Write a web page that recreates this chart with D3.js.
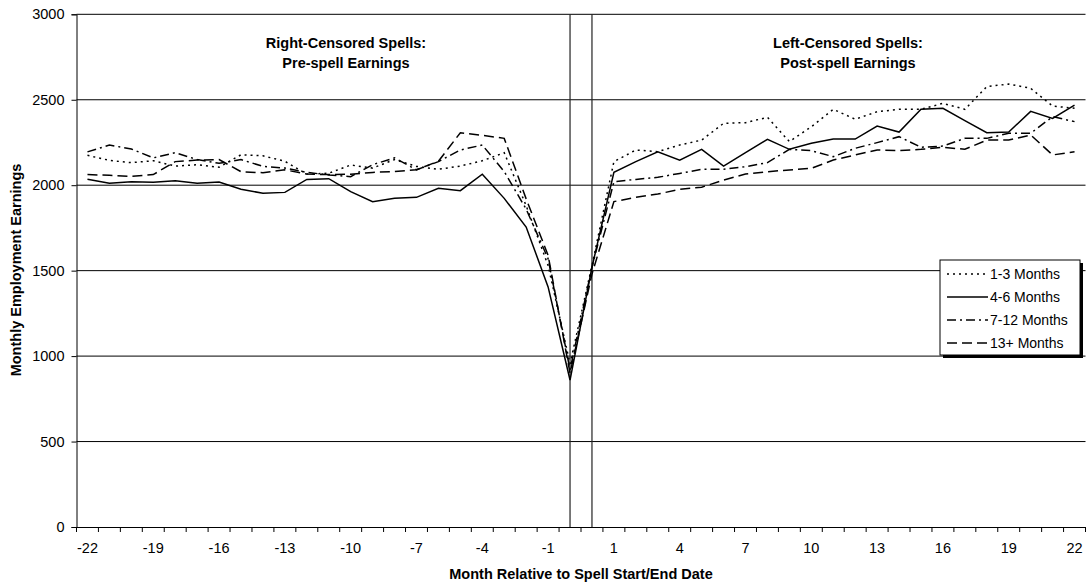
<!DOCTYPE html>
<html>
<head>
<meta charset="utf-8">
<script src="https://cdn.jsdelivr.net/npm/d3@7"></script>
<style>
  body { margin: 0; background: #fff; }
  svg text { font-family: "Liberation Sans", Arial, sans-serif; fill: #000; }
</style>
</head>
<body>
<div id="chart"></div>
<script>
// --- data ---
const months = ["-22","-21","-20","-19","-18","-17","-16","-15","-14","-13","-12","-11",
  "-10","-9","-8","-7","-6","-5","-4","-3","-2","-1","0s","0e",
  "1","2","3","4","5","6","7","8","9","10","11","12","13","14","15","16","17","18",
  "19","20","21","22"];
const tickLabels = ["-22","-19","-16","-13","-10","-7","-4","-1","1","4","7","10","13","16","19","22"];
const yTicks = [0, 500, 1000, 1500, 2000, 2500, 3000];
const seriesNames = ["1-3 Months", "4-6 Months", "7-12 Months", "13+ Months"];

const earn1to3 = [2175, 2145, 2132, 2143, 2112, 2120, 2105, 2178, 2172, 2140, 2065, 2070, 2118, 2100, 2150, 2110, 2093, 2112, 2143, 2190, 1880, 1530,
  955, 1530,
  2138, 2206, 2196, 2235, 2264, 2362, 2366, 2397, 2255, 2342, 2444, 2386, 2430, 2444, 2444, 2479, 2444, 2577, 2592, 2567, 2463, 2450];
const earn4to6 = [2035, 2011, 2020, 2017, 2026, 2011, 2019, 1976, 1953, 1958, 2034, 2038, 1962, 1903, 1923, 1929, 1982, 1968, 2064, 1923, 1755, 1405,
  860, 1520,
  2075, 2138, 2196, 2147, 2210, 2112, 2190, 2268, 2210, 2245, 2270, 2270, 2346, 2311, 2444, 2450, 2378, 2307, 2311, 2432, 2391, 2469];
const earn7to12 = [2195, 2235, 2212, 2160, 2190, 2150, 2128, 2150, 2110, 2100, 2075, 2060, 2050, 2120, 2160, 2090, 2138, 2206, 2235, 2080, 1860, 1570,
  920, 1520,
  2020, 2034, 2046, 2069, 2093, 2093, 2108, 2132, 2210, 2202, 2167, 2216, 2249, 2284, 2222, 2229, 2274, 2274, 2304, 2304, 2401, 2372];
const earn13plus = [2062, 2058, 2052, 2062, 2138, 2147, 2150, 2079, 2073, 2090, 2065, 2062, 2064, 2075, 2080, 2090, 2140, 2307, 2292, 2274, 1920, 1590,
  900, 1480,
  1904, 1929, 1948, 1976, 1988, 2030, 2065, 2079, 2089, 2099, 2147, 2177, 2206, 2202, 2210, 2222, 2210, 2264, 2264, 2294, 2177, 2196];

// months where the spell starts / ends (vertical marker lines)
const spellMarks = ["0s", "0e"];

// --- setup ---
const W = 1090, H = 584;
const margin = {top: 14.3, right: 4.5, bottom: 57, left: 76.5},
      width = W - margin.left - margin.right,
      height = H - margin.top - margin.bottom;

const svg = d3.select("#chart").append("svg")
    .attr("width", W)
    .attr("height", H);

const g = svg.append("g")
    .attr("transform", `translate(${margin.left},${margin.top})`);

const x = d3.scaleBand().domain(months).range([0, width]);
const y = d3.scaleLinear().domain([0, 3000]).range([height, 0]);
const cx = d => x(d) + x.bandwidth() / 2;

// gridlines
g.append("g")
  .selectAll("line")
  .data(yTicks.filter(v => v > 0))
  .join("line")
    .attr("x1", 0).attr("x2", width)
    .attr("y1", d => y(d)).attr("y2", d => y(d))
    .attr("stroke", "#000").attr("stroke-width", 1);

// spell start / end markers
g.append("g")
  .selectAll("line")
  .data(spellMarks)
  .join("line")
    .attr("x1", cx).attr("x2", cx)
    .attr("y1", y(0)).attr("y2", y(3000))
    .attr("stroke", "#222").attr("stroke-width", 1.2);

// y axis
const yAxis = g.append("g")
    .call(d3.axisLeft(y).tickValues(yTicks).tickSize(5).tickPadding(7).tickFormat(d3.format("d")));
yAxis.select(".domain").attr("stroke", "#000");
yAxis.selectAll("text").style("font-size", "14.5px");

// x axis: labels every 3rd month, tick marks between categories
const labelled = months.filter((m, i) => tickLabels.includes(m) && i % 3 === 0);
const xAxis = g.append("g")
    .attr("transform", `translate(0,${height})`)
    .call(d3.axisBottom(x).tickValues(labelled).tickSize(0).tickPadding(16));
xAxis.select(".domain").attr("stroke", "#000");
xAxis.selectAll("text").style("font-size", "14.5px");

g.append("g")
  .selectAll("line")
  .data(months.map(m => x(m)).concat([width]))
  .join("line")
    .attr("x1", d => d).attr("x2", d => d)
    .attr("y1", height).attr("y2", height + 5)
    .attr("stroke", "#000");

// axis titles
svg.append("text")
    .attr("x", 581).attr("y", 579)
    .attr("text-anchor", "middle")
    .style("font-size", "14.5px").style("font-weight", "bold")
    .text("Month Relative to Spell Start/End Date");

svg.append("text")
    .attr("transform", "translate(21,270) rotate(-90)")
    .attr("text-anchor", "middle")
    .style("font-size", "14.5px").style("font-weight", "bold")
    .text("Monthly Employment Earnings");

// region notes
const notes = [
  {x: 346, lines: ["Right-Censored Spells:", "Pre-spell Earnings"]},
  {x: 848, lines: ["Left-Censored Spells:", "Post-spell Earnings"]}
];
notes.forEach(n => {
  n.lines.forEach((t, i) => {
    svg.append("text")
      .attr("x", n.x).attr("y", 48 + i * 20)
      .attr("text-anchor", "middle")
      .style("font-size", "14.5px").style("font-weight", "bold")
      .text(t);
  });
});

// --- lines ---
const styles = ["2,4", null, "9,4,2,4", "10,5"];
const allSeries = [earn1to3, earn4to6, earn7to12, earn13plus];

const line = d3.line()
    .x((d, i) => cx(months[i]))
    .y(d => y(d));

allSeries.forEach((vals, k) => {
  g.append("path")
    .datum(vals)
    .attr("fill", "none")
    .attr("stroke", "#000")
    .attr("stroke-width", 1.5)
    .attr("stroke-dasharray", styles[k])
    .attr("d", line);
});

// --- legend ---
const lg = svg.append("g").attr("transform", "translate(940,260)");
lg.append("rect")
    .attr("x", 3).attr("y", 3).attr("width", 140).attr("height", 95)
    .attr("fill", "#000");
lg.append("rect")
    .attr("x", 0).attr("y", 0).attr("width", 140).attr("height", 95)
    .attr("fill", "#fff").attr("stroke", "#000");

seriesNames.forEach((name, k) => {
  const yy = 14 + k * 23;
  lg.append("line")
    .attr("x1", 7).attr("x2", 48)
    .attr("y1", yy).attr("y2", yy)
    .attr("stroke", "#000").attr("stroke-width", 1.5)
    .attr("stroke-dasharray", styles[k]);
  lg.append("text")
    .attr("x", 50).attr("y", yy + 5)
    .style("font-size", "14px")
    .text(name);
});
</script>
</body>
</html>
